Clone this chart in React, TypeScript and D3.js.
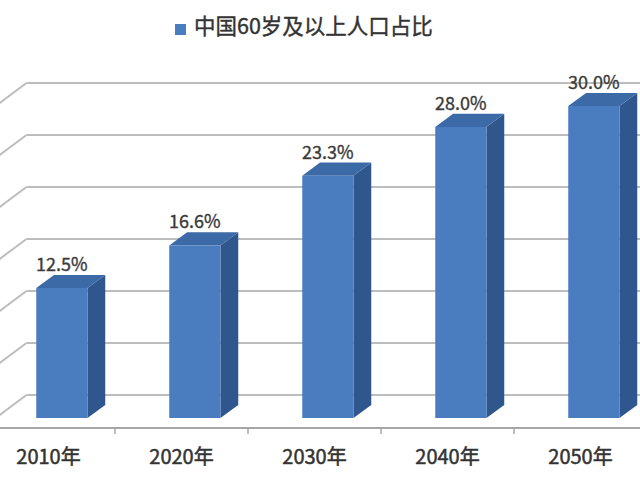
import React from 'react';
import * as d3 from 'd3';

const years = ['2010年', '2020年', '2030年', '2040年', '2050年'];
const shares = [12.5, 16.6, 23.3, 28.0, 30.0];
const gridTicks = [0, 5, 10, 15, 20, 25, 30];
const legendLabel = '中国60岁及以上人口占比';

const W = 640;
const H = 480;
const floorFront = 428; // y of the front edge of the floor
const depthX = 44.5;    // full depth of the 3D box, in px
const depthY = 33;
const barD0 = 0.3;      // bars span this depth range
const barD1 = 0.7;
const font = '"Noto Sans CJK SC", "Noto Sans", sans-serif';

const App: React.FC = () => {
  const x = d3.scaleBand<string>().domain(years).range([-18, 647]).padding(0);
  const h = d3.scaleLinear().domain([0, 30]).range([0, 312]);

  // project (front-plane x, depth fraction, value) to screen
  const pt = (fx: number, d: number, v: number): [number, number] => [
    fx + d * depthX,
    floorFront - d * depthY - h(v),
  ];
  const poly = (pts: [number, number][]) => pts.map(p => p.join(',')).join(' ');

  const backLeft = x.range()[0];
  const barW = x.bandwidth() * 0.385;

  return (
    <svg width={W} height={H} style={{ position: 'fixed', left: 0, top: 0, background: '#fff' }}>
      {/* back wall + side wall gridlines */}
      {gridTicks.map(t => {
        const [bx, by] = pt(backLeft, 1, t);
        const [fx, fy] = pt(backLeft, 0, t);
        return (
          <g key={t}>
            <line x1={bx} y1={by} x2={W + 10} y2={by} stroke="#bdbdbd" strokeWidth={2} />
            <line x1={bx} y1={by} x2={fx} y2={fy} stroke="#bdbdbd" strokeWidth={2} />
          </g>
        );
      })}

      {/* front axis */}
      <line x1={0} x2={W} y1={floorFront} y2={floorFront} stroke="#a6a6a6" strokeWidth={2} />
      {years.slice(1).map(c => (
        <line key={c} x1={x(c)!} x2={x(c)!} y1={floorFront} y2={floorFront + 6} stroke="#a6a6a6" strokeWidth={1.5} />
      ))}

      {/* 3D bars */}
      {years.map((c, i) => {
        const v = shares[i];
        const x0 = x(c)! + (x.bandwidth() - barW) / 2;
        const x1 = x0 + barW;
        const front = [pt(x0, barD0, 0), pt(x1, barD0, 0), pt(x1, barD0, v), pt(x0, barD0, v)] as [number, number][];
        const side = [pt(x1, barD0, 0), pt(x1, barD1, 0), pt(x1, barD1, v), pt(x1, barD0, v)] as [number, number][];
        const top = [pt(x0, barD0, v), pt(x1, barD0, v), pt(x1, barD1, v), pt(x0, barD1, v)] as [number, number][];
        const [lx] = pt((x0 + x1) / 2, barD0, v);
        const [, ly] = pt(x0, barD1, v);
        return (
          <g key={c}>
            <polygon points={poly(side)} fill="#2f578d" />
            <polygon points={poly(top)} fill="#3c6aa7" />
            <polygon points={poly(front)} fill="#4a7dc0" />
            <text x={lx} y={ly - 4} textAnchor="middle" fontFamily={font} fontSize={18}
              fill="#3a3a3a" stroke="#3a3a3a" strokeWidth={0.35}>
              {v.toFixed(1)}%
            </text>
          </g>
        );
      })}

      {/* category labels */}
      {years.map(c => (
        <text key={c} x={x(c)! + x.bandwidth() / 2} y={464} textAnchor="middle"
          fontFamily={font} fontSize={20} fill="#333" stroke="#333" strokeWidth={0.5}>
          {c}
        </text>
      ))}

      {/* legend */}
      <rect x={175} y={24} width={11} height={11} fill="#4a7dc0" />
      <text x={194} y={34} fontFamily={font} fontSize={21.5} fill="#333" stroke="#333" strokeWidth={0.4}>
        {legendLabel}
      </text>
    </svg>
  );
};

export default App;
